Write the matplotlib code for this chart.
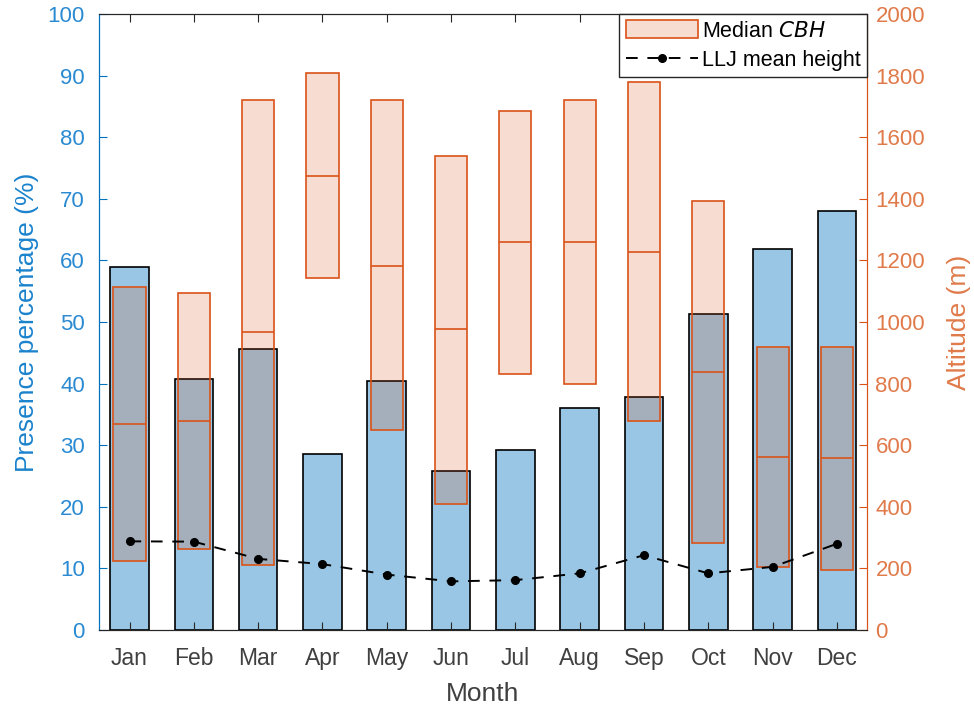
import numpy as np
import matplotlib
matplotlib.use("Agg")
import matplotlib.pyplot as plt
from matplotlib.patches import Patch
from matplotlib.lines import Line2D

plt.rcParams['font.family'] = ['Liberation Sans', 'DejaVu Sans']

months = ['Jan', 'Feb', 'Mar', 'Apr', 'May', 'Jun', 'Jul', 'Aug', 'Sep', 'Oct', 'Nov', 'Dec']
presence = [59.0, 40.7, 45.6, 28.6, 40.4, 25.8, 29.3, 36.0, 37.8, 51.3, 61.8, 68.1]
cbh_low = [223, 263, 210, 1143, 650, 409, 831, 798, 680, 281, 205, 194]
cbh_med = [668, 680, 967, 1475, 1182, 977, 1259, 1259, 1228, 837, 562, 557]
cbh_high = [1113, 1093, 1721, 1809, 1721, 1540, 1686, 1721, 1780, 1393, 920, 920]
llj = [288, 287, 231, 214, 180, 158, 162, 184, 243, 184, 205, 280]

blue = (0, 0.447, 0.741)
orange = (0.85, 0.325, 0.098)
axcol = '#262626'
dash = (0, (6, 5))

x = np.arange(1, 13)

fig = plt.figure(figsize=(9.74, 7.06), dpi=100)
ax1 = fig.add_axes([0.1013, 0.1076, 0.789, 0.8726])
ax1.bar(x, presence, width=0.6, color=blue + (0.4,), edgecolor='black', linewidth=1.2)
ax1.set_xlim(0.52, 12.47)
ax1.set_ylim(0, 100)
ax1.set_yticks(np.arange(0, 101, 10))
ax1.set_xticks(x)
ax1.set_xticklabels(months)
ax1.set_xlabel('Month', fontsize=19, color='#404040', labelpad=9)
ax1.set_ylabel('Presence percentage (%)', fontsize=19, color='#1a82cc', labelpad=6)

ax2 = ax1.twinx()
ax2.bar(x, np.array(cbh_high) - np.array(cbh_low), bottom=cbh_low, width=0.5,
        facecolor=orange + (0.2,), edgecolor=orange, linewidth=1.2)
ax2.hlines(cbh_med, x - 0.25, x + 0.25, color=orange, linewidth=1.2)
ax2.plot(x, llj, linestyle=dash, color='black', marker='o', markersize=5.5, linewidth=1.4)
ax2.set_ylim(0, 2000)
ax2.set_yticks(np.arange(0, 2001, 200))
ax2.set_ylabel('Altitude (m)', fontsize=19, color='#e07a4a', labelpad=16)

for ax in (ax1, ax2):
    ax.spines['top'].set_color(axcol)
    ax.spines['bottom'].set_color(axcol)
    ax.spines['left'].set_color(blue)
    ax.spines['right'].set_color(orange)
ax1.tick_params(axis='x', direction='in', top=True, length=6, colors=axcol, labelsize=16.5,
                labelcolor='#404040', pad=12)
ax1.tick_params(axis='y', direction='in', length=6, colors=blue, labelsize=16,
                labelcolor='#2a8ad2', pad=10)
ax2.tick_params(axis='y', direction='in', length=6, colors=orange, labelsize=16,
                labelcolor='#e07a4a', pad=6)

handles = [Patch(facecolor=orange + (0.2,), edgecolor=orange, linewidth=1.2),
           Line2D([], [], linestyle=dash, color='black', marker='o', markersize=5.5, linewidth=1.4)]
leg = ax2.legend(handles, ['Median $\\it{CBH}$', 'LLJ mean height'], loc='upper right',
                 fontsize=15.5, fancybox=False, framealpha=1, edgecolor=axcol,
                 borderaxespad=0, handlelength=3.35, handleheight=0.9, handletextpad=0.2,
                 borderpad=0.3, labelspacing=0.35)
leg.get_frame().set_linewidth(1.0)

fig.savefig('out.png', dpi=100)
